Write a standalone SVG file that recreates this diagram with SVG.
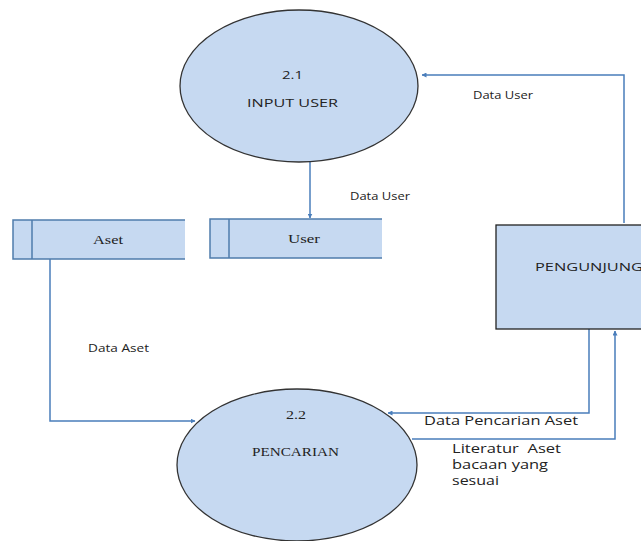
<svg xmlns="http://www.w3.org/2000/svg" width="641" height="541" viewBox="0 0 641 541">
<defs>
<marker id="ah" viewBox="0 0 10 10" refX="9" refY="5" markerWidth="5" markerHeight="5" orient="auto-start-reverse" markerUnits="userSpaceOnUse">
<path d="M0,0 L10,5 L0,10 z" fill="#4a7ebb"/>
</marker>
<style>
.proc{fill:#c6d9f1;stroke:#333;stroke-width:1.3}
.store{fill:#c6d9f1}
.sline{fill:none;stroke:#4f7cac;stroke-width:1.5}
.ent{fill:#c6d9f1;stroke:#222;stroke-width:1.3}
.conn{fill:none;stroke:#4a7ebb;stroke-width:1.5}
.sans{font-family:"Open Sans","Liberation Sans",sans-serif;fill:#222}
.serif{font-family:"Liberation Serif",serif;fill:#222}
</style>
</defs>
<rect width="641" height="541" fill="#fff"/>
<g id="connectors">
<path class="conn" d="M624,223 V75 H422" marker-end="url(#ah)"/>
<path class="conn" d="M310,162 V218" marker-end="url(#ah)"/>
<path class="conn" d="M50,259 V421 H195" marker-end="url(#ah)"/>
<path class="conn" d="M589,329 V413 H388" marker-end="url(#ah)"/>
<path class="conn" d="M412,439 H615 V331" marker-end="url(#ah)"/>
</g>
<g id="labels">
<text class="sans" x="473" y="99" font-size="10" textLength="60" lengthAdjust="spacingAndGlyphs">Data User</text>
<text class="sans" x="350" y="200" font-size="10" textLength="60" lengthAdjust="spacingAndGlyphs">Data User</text>
<text class="sans" x="88" y="352" font-size="10" textLength="61" lengthAdjust="spacingAndGlyphs">Data Aset</text>
<text class="sans" x="424" y="425" font-size="12" textLength="154" lengthAdjust="spacingAndGlyphs">Data Pencarian Aset</text>
<text class="sans" x="452" y="453" font-size="12" textLength="109" lengthAdjust="spacingAndGlyphs" xml:space="preserve">Literatur  Aset</text>
<text class="sans" x="452" y="469" font-size="12" textLength="96" lengthAdjust="spacingAndGlyphs">bacaan yang</text>
<text class="sans" x="452" y="485" font-size="12" textLength="47" lengthAdjust="spacingAndGlyphs">sesuai</text>
</g>
<g id="p21">
<ellipse class="proc" cx="299" cy="86" rx="119" ry="76"/>
<text class="sans" x="282" y="79" font-size="11" textLength="21" lengthAdjust="spacingAndGlyphs">2.1</text>
<text class="sans" x="247" y="107" font-size="11" textLength="91" lengthAdjust="spacingAndGlyphs">INPUT USER</text>
</g>
<g id="p22">
<ellipse class="proc" cx="297" cy="465" rx="120" ry="76"/>
<text class="serif" x="286" y="419" font-size="12" textLength="20" lengthAdjust="spacingAndGlyphs">2.2</text>
<text class="serif" x="252" y="456" font-size="12" textLength="87" lengthAdjust="spacingAndGlyphs">PENCARIAN</text>
</g>
<g id="aset">
<rect class="store" x="13" y="220" width="172" height="39"/>
<path class="sline" d="M185,220 H13 V259 H185 M32,220 V259"/>
<text class="serif" x="93" y="244" font-size="12" textLength="30" lengthAdjust="spacingAndGlyphs">Aset</text>
</g>
<g id="user">
<rect class="store" x="210" y="219" width="172" height="39"/>
<path class="sline" d="M382,219 H210 V258 H382 M229,219 V258"/>
<text class="serif" x="288" y="243" font-size="12" textLength="32" lengthAdjust="spacingAndGlyphs">User</text>
</g>
<g id="pengunjung">
<rect class="ent" x="496" y="225" width="160" height="104"/>
<text class="sans" x="535" y="271" font-size="11" textLength="108" lengthAdjust="spacingAndGlyphs">PENGUNJUNG</text>
</g>
</svg>
